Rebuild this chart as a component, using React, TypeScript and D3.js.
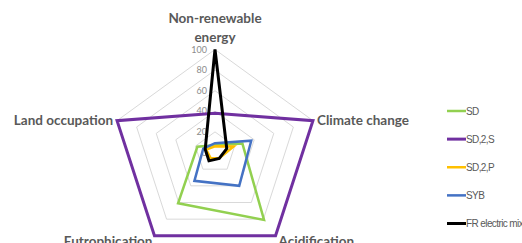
import { useRef, useEffect } from 'react'
import * as d3 from 'd3'

// axes in clockwise order, starting at the top
const axes = ['Non-renewable energy', 'Climate change', 'Acidification', 'Eutrophication', 'Land occupation']
const ticks = [0, 20, 40, 60, 80, 100]

const seriesNames = ['SD', 'SD,2,S', 'SD,2,P', 'SYB', 'FR electric mix']
const sdValues = [7, 28, 81, 61, 18]
const sd2sValues = [38, 100, 100, 100, 100]
const sd2pValues = [6, 19, 7, 7, 9]
const sybValues = [9, 37, 40, 34, 12]
const frMixValues = [100, 12, 7, 10, 10]

const seriesValues = [sdValues, sd2sValues, sd2pValues, sybValues, frMixValues]
const colors = ['#92d050', '#7030a0', '#ffc000', '#4472c4', '#000000']
const widths = [2.5, 3, 2.5, 2.5, 3]

const W = 522
const H = 243

const App = () => {
  const svgRef = useRef<SVGSVGElement>(null)

  useEffect(() => {
    if (!svgRef.current) return
    const svg = d3.select(svgRef.current)
    svg.selectAll('*').remove()

    const cx = 215
    const cy = 152.5
    const r = d3.scaleLinear().domain([0, 100]).range([0, 103])
    const angle = (i: number) => (i * 2 * Math.PI) / axes.length

    const point = (i: number, v: number): [number, number] => [
      cx + r(v) * Math.sin(angle(i)),
      cy - r(v) * Math.cos(angle(i)),
    ]

    const radar = d3.line<number>()
      .x((v, i) => point(i, v)[0])
      .y((v, i) => point(i, v)[1])
      .curve(d3.curveLinearClosed)

    // grid pentagons
    const grid = svg.append('g')
    ticks.filter(t => t > 0).forEach(t => {
      grid.append('path')
        .attr('d', radar(axes.map(() => t)))
        .attr('fill', 'none')
        .attr('stroke', '#d9d9d9')
        .attr('stroke-width', 1)
    })

    // tick labels on the top axis
    svg.append('g')
      .selectAll('text')
      .data(ticks)
      .join('text')
      .attr('x', cx - 8)
      .attr('y', (d: number) => cy - r(d) + 3)
      .attr('text-anchor', 'end')
      .attr('fill', '#8c8c8c')
      .style('font-family', 'Lato, sans-serif')
      .style('font-size', '9px')
      .text((d: number) => String(d))

    // series
    seriesValues.forEach((vals, k) => {
      svg.append('path')
        .attr('d', radar(vals))
        .attr('fill', 'none')
        .attr('stroke', colors[k])
        .attr('stroke-width', widths[k])
        .attr('stroke-linejoin', 'miter')
    })

    // axis labels
    const lab = svg.append('g')
      .attr('fill', '#595959')
      .style('font-family', 'Lato, sans-serif')
      .style('font-size', '13.5px')
      .style('font-weight', 'bold')

    const [tx, ty] = point(0, 100)
    lab.append('text').attr('x', tx).attr('y', ty - 27).attr('text-anchor', 'middle').text('Non-renewable')
    lab.append('text').attr('x', tx).attr('y', ty - 8).attr('text-anchor', 'middle').text('energy')

    const [rx, ry] = point(1, 100)
    lab.append('text').attr('x', rx + 4).attr('y', ry + 4).attr('text-anchor', 'start').text(axes[1])

    const [ax, ay] = point(2, 100)
    lab.append('text').attr('x', ax + 3).attr('y', ay + 10).attr('text-anchor', 'start').text(axes[2])

    const [ex, ey] = point(3, 100)
    lab.append('text').attr('x', ex - 2).attr('y', ey + 10).attr('text-anchor', 'end').text(axes[3])

    const [lx, ly] = point(4, 100)
    lab.append('text').attr('x', lx - 4).attr('y', ly + 4).attr('text-anchor', 'end').text(axes[4])

    // legend
    const legendY = d3.scalePoint<string>().domain(seriesNames).range([111, 223.5])
    const legend = svg.append('g')
    seriesNames.forEach((name, k) => {
      const y = legendY(name) || 0
      legend.append('line')
        .attr('x1', 447).attr('x2', 466)
        .attr('y1', y).attr('y2', y)
        .attr('stroke', colors[k])
        .attr('stroke-width', widths[k])
      legend.append('text')
        .attr('x', 466)
        .attr('y', y + 3.5)
        .attr('fill', '#595959')
        .style('font-family', 'Liberation Sans Narrow, Liberation Sans, sans-serif')
        .style('font-size', '10px')
        .style('letter-spacing', '-0.6px')
        .text(name)
    })
  }, [])

  return (
    <div style={{ position: 'absolute', left: 0, top: 0, width: W, height: H, background: '#fff' }}>
      <svg ref={svgRef} width={W} height={H} style={{ display: 'block' }} />
    </div>
  )
}

export default App
